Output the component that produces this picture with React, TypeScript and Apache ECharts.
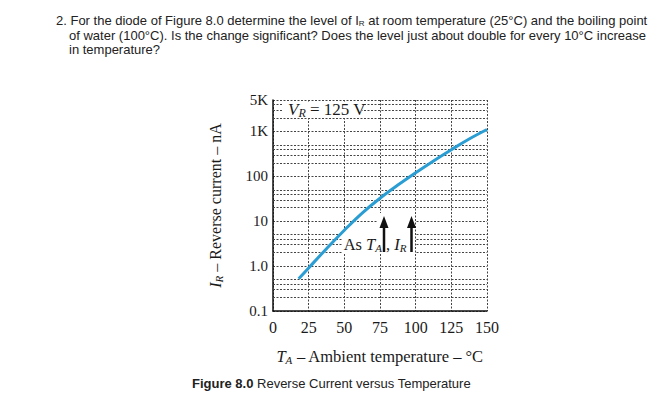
import React, { useEffect, useRef } from 'react';
import * as echarts from 'echarts';

// Data
const temperature = [18, 25, 37.5, 50, 62.5, 75, 87.5, 100, 112.5, 125, 137.5, 150];
const reverseCurrent = [0.52, 0.91, 2.44, 6.3, 15.2, 32.5, 63.7, 120, 220, 391, 677, 1100];
const yMajorValues = [0.1, 1, 10, 100, 1000, 5000];
const yTickLabels = ['0.1', '1.0', '10', '100', '1K', '5K'];
const yMinorGrid = [0.2, 0.3, 0.4, 0.5, 2, 3, 4, 5, 20, 30, 40, 50, 200, 300, 400, 500, 2000, 3000, 4000];

const SERIF = '"Liberation Serif", "DejaVu Serif", serif';
const SANS = '"Liberation Sans", Arial, sans-serif';
const GRID_COLOR = '#444';
const GRID_DASH = [2, 1.5];

const titleLines = [
  '{n|2. For the diode of Figure 8.0 determine the level of I}{s|R}{n| at room temperature (25°C) and the boiling point}',
  '{n|of water (100°C). Is the change significant? Does the level just about double for every 10°C increase}',
  '{n|in temperature?}',
];

function yLabel(v: number): string {
  for (let i = 0; i < yMajorValues.length; i++) {
    if (Math.abs(Math.log10(v) - Math.log10(yMajorValues[i])) < 1e-6) return yTickLabels[i];
  }
  return '';
}

const serifRich = (size: number) => ({
  n: { fontFamily: SERIF, fontSize: size, color: '#1a1a1a' },
  i: { fontFamily: SERIF, fontSize: size, fontStyle: 'italic', color: '#1a1a1a' },
  sub: { fontFamily: SERIF, fontSize: Math.round(size * 0.68), fontStyle: 'italic', color: '#1a1a1a', padding: [7, 0, 0, 0] },
});

const gRich = (size: number) => ({
  n: { fontFamily: SERIF, fontSize: size, fill: '#1a1a1a' },
  i: { fontFamily: SERIF, fontSize: size, fontStyle: 'italic', fill: '#1a1a1a' },
  sub: { fontFamily: SERIF, fontSize: Math.round(size * 0.68), fontStyle: 'italic', fill: '#1a1a1a', padding: [8, 0, 0, 0] },
});

function buildOption(): any {
  return {
    animation: false,
    backgroundColor: '#fff',
    grid: { left: 273, top: 100, width: 214, height: 211 },
    xAxis: {
      type: 'value',
      min: 0,
      max: 150,
      interval: 25,
      axisLine: { show: true, onZero: false, lineStyle: { color: '#111', width: 1.5 } },
      axisTick: { show: false },
      axisLabel: { fontFamily: SERIF, fontSize: 16, color: '#1a1a1a', margin: 8 },
      splitLine: { show: true, lineStyle: { color: GRID_COLOR, type: GRID_DASH, width: 1 } },
      name: '{i|T}{sub|A}{n| – Ambient temperature – °C}',
      nameLocation: 'middle',
      nameGap: 36,
      nameTextStyle: { fontFamily: SERIF, fontSize: 16.5, color: '#1a1a1a', rich: serifRich(16.5) },
    },
    yAxis: {
      type: 'log',
      logBase: 10,
      min: 0.1,
      max: 5000,
      axisLine: { show: true, lineStyle: { color: '#111', width: 1.5 } },
      axisTick: { show: false },
      axisLabel: { fontFamily: SERIF, fontSize: 15, color: '#1a1a1a', margin: 5, formatter: (v: number) => yLabel(v) },
      splitLine: { show: true, lineStyle: { color: GRID_COLOR, type: GRID_DASH, width: 1 } },
      name: '{i|I}{sub|R}{n| – Reverse current – nA}',
      nameLocation: 'middle',
      nameGap: 49,
      nameRotate: 90,
      nameTextStyle: { fontFamily: SERIF, fontSize: 16, color: '#1a1a1a', rich: serifRich(16) },
    },
    series: [
      {
        type: 'line',
        name: 'minor-grid',
        data: [[150, 5000]],
        symbol: 'none',
        silent: true,
        z: 1,
        lineStyle: { opacity: 0 },
        markLine: {
          silent: true,
          z: 1,
          symbol: 'none',
          label: { show: false },
          lineStyle: { color: GRID_COLOR, type: GRID_DASH, width: 1 },
          data: yMinorGrid.map((v) => ({ yAxis: v })),
        },
      },
      {
        type: 'line',
        name: 'IR',
        data: temperature.map((t, i) => [t, reverseCurrent[i]]),
        smooth: 0.4,
        symbol: 'none',
        z: 8,
        lineStyle: { color: '#2a9dd3', width: 3 },
      },
    ],
    graphic: [
      // title lines
      ...titleLines.map((t, i) => ({
        type: 'text',
        x: i === 0 ? 56 : 69,
        y: [20, 35, 49.5][i],
        z: 10,
        style: {
          text: t,
          verticalAlign: 'middle',
          rich: {
            n: { fontFamily: SANS, fontSize: 13, fill: '#222' },
            s: { fontFamily: SANS, fontSize: 8, fill: '#222', padding: [6, 0, 0, 0] },
          },
        },
      })),
      // caption
      {
        type: 'text',
        x: 192,
        y: 383,
        z: 10,
        style: {
          text: '{b|Figure 8.0}{n| Reverse Current versus Temperature}',
          verticalAlign: 'middle',
          rich: {
            b: { fontFamily: SANS, fontSize: 13, fontWeight: 'bold', fill: '#222' },
            n: { fontFamily: SANS, fontSize: 13, fill: '#222' },
          },
        },
      },
      // white backings for in-plot labels
      { type: 'rect', z: 3, shape: { x: 283, y: 101.5, width: 79, height: 16.5 }, style: { fill: '#fff' } },
      { type: 'rect', z: 3, shape: { x: 343, y: 229, width: 72, height: 24 }, style: { fill: '#fff' } },
      { type: 'rect', z: 3, shape: { x: 378, y: 213, width: 37, height: 17 }, style: { fill: '#fff' } },
      // V_R = 125 V
      {
        type: 'text',
        x: 288,
        y: 109,
        z: 6,
        style: { text: '{i|V}{sub|R}{n| = 125 V}', verticalAlign: 'middle', rich: gRich(17) },
      },
      // As T_A (arrow), I_R (arrow)
      {
        type: 'text',
        x: 382,
        y: 244,
        z: 6,
        style: { text: '{n|As }{i|T}{sub|A}', align: 'right', verticalAlign: 'middle', rich: gRich(16.5) },
      },
      {
        type: 'text',
        x: 386,
        y: 244,
        z: 6,
        style: { text: '{n|, }{i|I}{sub|R}', align: 'left', verticalAlign: 'middle', rich: gRich(16.5) },
      },
      { type: 'line', z: 6, shape: { x1: 384, y1: 252, x2: 384, y2: 225 }, style: { stroke: '#111', lineWidth: 2.5 } },
      { type: 'polygon', z: 6, shape: { points: [[379.5, 228], [388.5, 228], [384, 216]] }, style: { fill: '#111' } },
      { type: 'line', z: 6, shape: { x1: 411.5, y1: 252, x2: 411.5, y2: 225 }, style: { stroke: '#111', lineWidth: 2.5 } },
      { type: 'polygon', z: 6, shape: { points: [[407, 228], [416, 228], [411.5, 216]] }, style: { fill: '#111' } },
    ],
  };
}

export default function App() {
  const ref = useRef<HTMLDivElement>(null);
  useEffect(() => {
    if (!ref.current) return;
    const chart = echarts.init(ref.current, null, { renderer: 'svg' });
    chart.setOption(buildOption());
    return () => chart.dispose();
  }, []);
  return (
    <div
      ref={ref}
      style={{ position: 'absolute', left: 0, top: 0, width: 670, height: 395, background: '#fff' }}
    />
  );
}
